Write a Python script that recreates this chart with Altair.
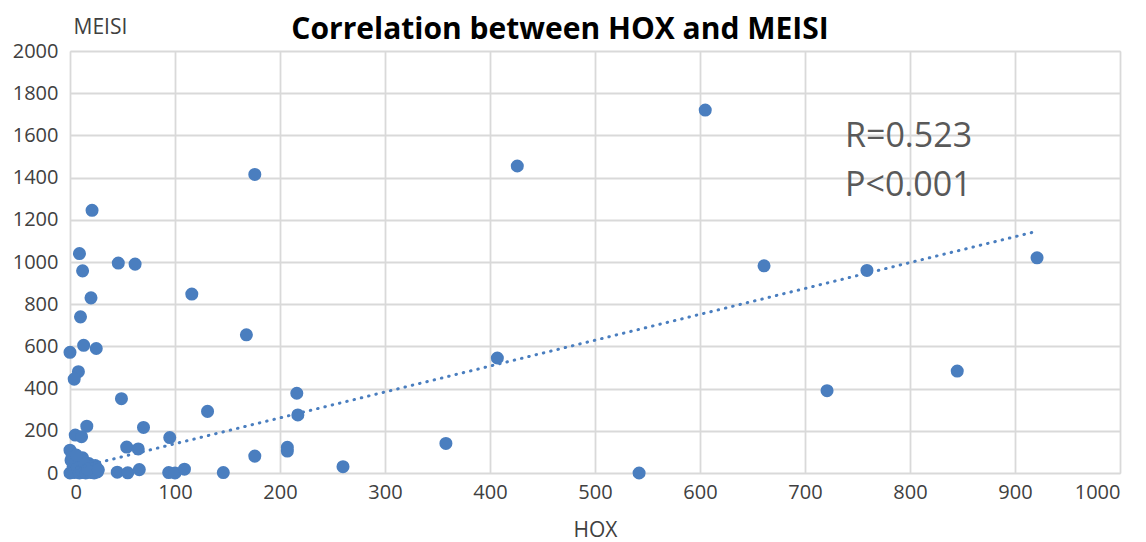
import altair as alt
import pandas as pd

# ---- data ----
hox = [21, 9, 46, 62, 12, 116, 20, 10, 168, 0, 13, 25, 8, 4, 49, 131, 16, 70, 5, 11,
       95, 54, 65, 0, 12, 176, 45, 55, 66, 94, 100, 109, 146,
       605, 426, 176, 661, 759, 921, 721, 845, 407, 216, 217, 358, 207, 207, 260, 542,
       0, 2, 3, 5, 6, 8, 10, 12, 14, 16, 18, 20, 22, 24, 26, 1, 4, 7, 9, 11, 15, 19,
       23, 25, 13, 17, 27, 2, 6]
meis = [1245, 1040, 995, 990, 958, 848, 830, 740, 655, 572, 605, 590, 480, 445, 352, 292, 222, 216, 180, 172,
        168, 123, 114, 108, 72, 80, 4, 1, 16, 2, 0, 18, 2,
        1720, 1455, 1415, 982, 960, 1020, 390, 483, 545, 378, 275, 140, 122, 104, 30, 0,
        0, 5, 30, 15, 50, 10, 40, 3, 25, 8, 45, 2, 20, 35, 5, 60, 2, 22, 0, 12, 0, 30,
        0, 25, 55, 18, 15, 75, 85]

trend_x = [0, 918]
trend_y = [16, 1142]

x_ticks = [0, 100, 200, 300, 400, 500, 600, 700, 800, 900, 1000]
y_ticks = [0, 200, 400, 600, 800, 1000, 1200, 1400, 1600, 1800, 2000]

title_text = "Correlation between HOX and MEISI"
annot_r = "R=0.523"
annot_p = "P<0.001"

BLUE = "#4a7ebf"
FONT = "Open Sans"
TXT = "#404040"

df = pd.DataFrame({"HOX": hox, "MEISI": meis})
trend = pd.DataFrame({"HOX": trend_x, "MEISI": trend_y})

xscale = alt.Scale(domain=[0, 1000], nice=False, zero=False)
yscale = alt.Scale(domain=[0, 2000], nice=False, zero=False)

xaxis = alt.Axis(values=x_ticks, format="d", title="HOX", grid=True, ticks=False, domain=False,
                 labelFontSize=20, labelFont=FONT, labelColor=TXT, labelPadding=9,
                 gridColor="#d9d9d9", gridWidth=1.8,
                 titleFont=FONT, titleFontSize=21, titleFontWeight="normal", titleColor=TXT,
                 titleY=63, titleBaseline="alphabetic")
yaxis = alt.Axis(values=y_ticks, format="d", title="MEISI", grid=True, ticks=False, domain=False,
                 labelFontSize=20, labelFont=FONT, labelColor=TXT, labelPadding=12,
                 gridColor="#d9d9d9", gridWidth=1.8,
                 titleFont=FONT, titleFontSize=21, titleFontWeight="normal", titleColor=TXT,
                 titleAngle=0, titleAlign="left", titleX=3, titleY=-18,
                 titleBaseline="alphabetic")

points = alt.Chart(df).mark_circle(size=170, color=BLUE, opacity=1).encode(
    x=alt.X("HOX:Q", scale=xscale, axis=xaxis),
    y=alt.Y("MEISI:Q", scale=yscale, axis=yaxis),
)

line = alt.Chart(trend).mark_line(color=BLUE, strokeWidth=3, strokeDash=[0.5, 7],
                                  strokeCap="round").encode(
    x=alt.X("HOX:Q", scale=xscale),
    y=alt.Y("MEISI:Q", scale=yscale),
)

def label(text, x, y, size, color, weight="normal", align="left"):
    return alt.Chart(pd.DataFrame({"t": [text]})).mark_text(
        font=FONT, fontSize=size, color=color, fontWeight=weight, align=align,
        baseline="alphabetic"
    ).encode(text="t:N", x=alt.value(x), y=alt.value(y))

title = label(title_text, 490, -12, 30, "#000000", weight="bold", align="center")
txt_r = label(annot_r, 775, 96, 34, "#595959")
txt_p = label(annot_p, 775, 145, 34, "#595959")

chart = alt.layer(points, line, txt_r, txt_p, title).properties(
    width=1050, height=422,
    autosize=alt.AutoSizeParams(type="none"),
    padding={"left": 70, "top": 51, "right": 26, "bottom": 69},
).configure_view(stroke=None).configure(background="white")

chart.save("out.html", embed_options={"renderer": "svg", "actions": False})
